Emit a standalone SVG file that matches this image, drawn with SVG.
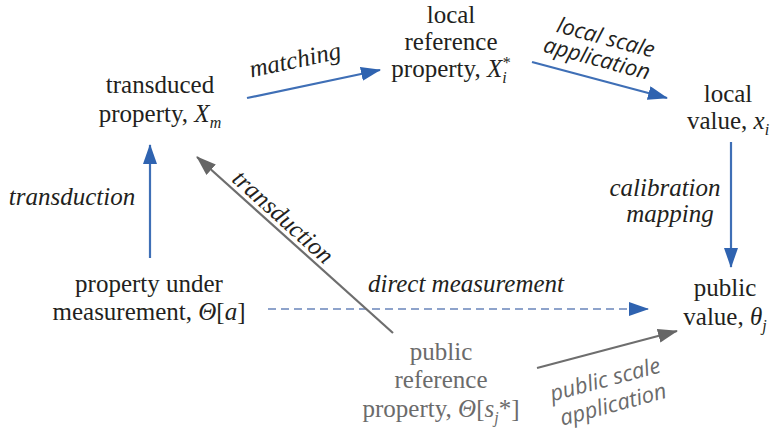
<svg xmlns="http://www.w3.org/2000/svg" width="772" height="431" viewBox="0 0 772 431">
<style>
.n{font-size:25px;fill:#231f20;text-anchor:middle}
.g{fill:#6b6b6b}
.i{font-style:italic}
.lab{font-size:25px;font-style:italic;fill:#231f20;text-anchor:middle}
.lab2{font-size:22px;font-style:italic;text-anchor:middle}
.s{font-size:16px}
.blue{stroke:#3f6fb6;stroke-width:2.2;fill:none}
.grey{stroke:#6e6e6e;stroke-width:2.2;fill:none}
.dash{stroke:#8ea3cb;stroke-width:2;fill:none;stroke-dasharray:8 5}
</style>
<defs>
<marker id="ab2" markerWidth="20" markerHeight="14" refX="19" refY="7" orient="auto" markerUnits="userSpaceOnUse" viewBox="0 0 20 14"><path d="M0,0 L20,7 L0,14 z" fill="#2f63b0"/></marker>
<marker id="ag" markerWidth="20" markerHeight="14" refX="19" refY="7" orient="auto" markerUnits="userSpaceOnUse" viewBox="0 0 20 14"><path d="M0,0 L20,7 L0,14 z" fill="#666"/></marker>
</defs>
<rect width="772" height="431" fill="#fff"/>
<g id="connectors" font-family="Liberation Serif, Times New Roman, serif">
<line class="blue" x1="247" y1="98" x2="380" y2="70" marker-end="url(#ab2)"/>
<line class="blue" x1="532" y1="62" x2="667" y2="98" marker-end="url(#ab2)"/>
<line class="blue" x1="731" y1="142" x2="731" y2="267" marker-end="url(#ab2)"/>
<line class="blue" x1="150" y1="258" x2="150" y2="145" marker-end="url(#ab2)"/>
<line class="dash" x1="268" y1="309" x2="648" y2="309" marker-end="url(#ab2)"/>
<line class="grey" x1="393" y1="333" x2="197" y2="157" marker-end="url(#ag)"/>
<line class="grey" x1="537" y1="368" x2="677" y2="331" marker-end="url(#ag)"/>
<text class="lab" x="295" y="68" transform="rotate(-12 295 60)">matching</text>
<text class="lab2" font-family="Open Sans, sans-serif" x="606" y="45" transform="rotate(15 606 37)" fill="#231f20">local scale</text>
<text class="lab2" font-family="Open Sans, sans-serif" x="597" y="66" transform="rotate(15 597 58)" fill="#231f20">application</text>
<text class="lab" x="665" y="196">calibration</text>
<text class="lab" x="670" y="222">mapping</text>
<text class="lab" x="72" y="205">transduction</text>
<text class="lab" x="466" y="292">direct measurement</text>
<text class="lab g" x="283" y="225" transform="rotate(42 283 217)">transduction</text>
<text class="lab2" font-family="Open Sans, sans-serif" x="605" y="387" transform="rotate(-15 605 379)" fill="#6b6b6b">public scale</text>
<text class="lab2" font-family="Open Sans, sans-serif" x="613" y="412" transform="rotate(-15 613 404)" fill="#6b6b6b">application</text>
</g>
<g id="transduced" font-family="Liberation Serif, Times New Roman, serif">
<text class="n" x="160" y="93">transduced</text>
<text class="n" x="160" y="122">property, <tspan class="i">X</tspan><tspan class="s i" dy="6">m</tspan></text>
</g>
<g id="local-reference" font-family="Liberation Serif, Times New Roman, serif">
<text class="n" x="451" y="23">local</text>
<text class="n" x="451" y="50">reference</text>
<text class="n" x="451" y="77">property, <tspan class="i">X</tspan><tspan class="s i" dy="6">i</tspan><tspan class="s" dx="-4" dy="-15">*</tspan></text>
</g>
<g id="local-value" font-family="Liberation Serif, Times New Roman, serif">
<text class="n" x="728" y="102">local</text>
<text class="n" x="728" y="129">value, <tspan class="i">x</tspan><tspan class="s i" dy="6">i</tspan></text>
</g>
<g id="public-value" font-family="Liberation Serif, Times New Roman, serif">
<text class="n" x="725" y="296">public</text>
<text class="n" x="725" y="325">value, <tspan class="i">θ</tspan><tspan class="s i" dy="6">j</tspan></text>
</g>
<g id="property-under-measurement" font-family="Liberation Serif, Times New Roman, serif">
<text class="n" x="149" y="292">property under</text>
<text class="n" x="149" y="320">measurement, <tspan class="i">Θ</tspan>[<tspan class="i">a</tspan>]</text>
</g>
<g id="public-reference" font-family="Liberation Serif, Times New Roman, serif">
<text class="n g" x="441" y="360">public</text>
<text class="n g" x="441" y="388">reference</text>
<text class="n g" x="441" y="417">property, <tspan class="i">Θ</tspan>[<tspan class="i">s</tspan><tspan class="s i" dy="6">j</tspan><tspan dy="-6">*]</tspan></text>
</g>
</svg>
